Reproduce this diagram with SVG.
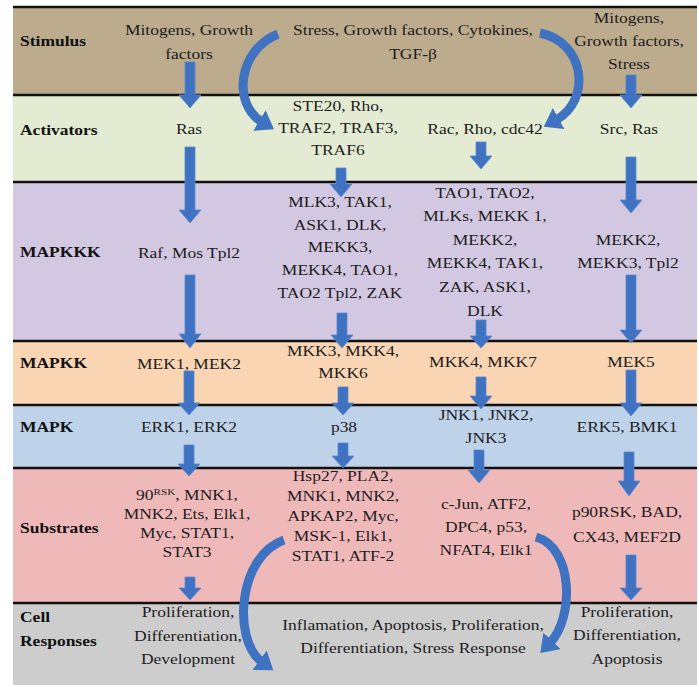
<svg xmlns="http://www.w3.org/2000/svg" width="699" height="687" viewBox="0 0 699 687">
<style>
.t{font-size:14px;fill:#1c1c1c;text-anchor:middle}
.h{font-size:14px;font-weight:bold;fill:#111}
.sep{stroke:#111;stroke-width:2.5}
.arr{fill:#3f72c0;stroke:#5a88d0;stroke-width:0.8}
.curve{fill:none;stroke:#3f72c0;stroke-width:9}
</style>
<defs>
<marker id="ah" markerUnits="userSpaceOnUse" markerWidth="17" markerHeight="24" viewBox="0 0 17 24" refX="3" refY="12" orient="auto">
<path d="M0,0 L17,12 L0,24 Z" fill="#3f72c0"/>
</marker>
</defs>
<rect width="699" height="687" fill="#ffffff"/>
<g id="bands">
<rect x="13" y="7" width="684" height="88" fill="#bcab8c"/>
<rect x="13" y="95" width="684" height="87" fill="#e3ecd2"/>
<rect x="13" y="182" width="684" height="159" fill="#d3c8e2"/>
<rect x="13" y="341" width="684" height="64" fill="#f9d5b4"/>
<rect x="13" y="405" width="684" height="63" fill="#bed3ea"/>
<rect x="13" y="468" width="684" height="135" fill="#f0b9b9"/>
<rect x="13" y="603" width="684" height="82" fill="#cdcdcd"/>
<line class="sep" x1="13" y1="7" x2="697" y2="7"/>
<line class="sep" x1="13" y1="95" x2="697" y2="95"/>
<line class="sep" x1="13" y1="182" x2="697" y2="182"/>
<line class="sep" x1="13" y1="341" x2="697" y2="341"/>
<line class="sep" x1="13" y1="405" x2="697" y2="405"/>
<line class="sep" x1="13" y1="468" x2="697" y2="468"/>
<line class="sep" x1="13" y1="603" x2="697" y2="603"/>
</g>
<g font-family="Liberation Serif, Times New Roman, DejaVu Serif, serif">
<g id="row-labels">
<text class="h" transform="translate(20,0) scale(1.25,1)" x="0" y="46">Stimulus</text>
<text class="h" transform="translate(20,0) scale(1.25,1)" x="0" y="135">Activators</text>
<text class="h" transform="translate(20,0) scale(1.25,1)" x="0" y="257">MAPKKK</text>
<text class="h" transform="translate(20,0) scale(1.25,1)" x="0" y="368">MAPKK</text>
<text class="h" transform="translate(20,0) scale(1.25,1)" x="0" y="432">MAPK</text>
<text class="h" transform="translate(20,0) scale(1.25,1)" x="0" y="533">Substrates</text>
<text class="h" transform="translate(20,0) scale(1.25,1)"><tspan x="0" y="622">Cell</tspan><tspan x="0" y="646">Responses</tspan></text>
</g>
<g id="stim-1"><text class="t" transform="translate(189,0) scale(1.25,1)"><tspan x="0" y="35">Mitogens, Growth</tspan><tspan x="0" y="59">factors</tspan></text></g>
<g id="stim-2"><text class="t" transform="translate(413,0) scale(1.25,1)"><tspan x="0" y="35">Stress, Growth factors, Cytokines,</tspan><tspan x="0" y="59">TGF-β</tspan></text></g>
<g id="stim-4"><text class="t" transform="translate(629,0) scale(1.25,1)"><tspan x="0" y="23">Mitogens,</tspan><tspan x="0" y="46">Growth factors,</tspan><tspan x="0" y="69">Stress</tspan></text></g>
<g id="act-1"><text class="t" transform="translate(189,0) scale(1.25,1)" x="0" y="134">Ras</text></g>
<g id="act-2"><text class="t" transform="translate(338,0) scale(1.25,1)"><tspan x="0" y="111">STE20, Rho,</tspan><tspan x="0" y="133">TRAF2, TRAF3,</tspan><tspan x="0" y="155">TRAF6</tspan></text></g>
<g id="act-3"><text class="t" transform="translate(485,0) scale(1.25,1)" x="0" y="134">Rac, Rho, cdc42</text></g>
<g id="act-4"><text class="t" transform="translate(629,0) scale(1.25,1)" x="0" y="134">Src, Ras</text></g>
<g id="mkkk-1"><text class="t" transform="translate(189,0) scale(1.25,1)" x="0" y="258">Raf, Mos Tpl2</text></g>
<g id="mkkk-2"><text class="t" transform="translate(340,0) scale(1.25,1)"><tspan x="0" y="207">MLK3, TAK1,</tspan><tspan x="0" y="230">ASK1, DLK,</tspan><tspan x="0" y="252">MEKK3,</tspan><tspan x="0" y="275">MEKK4, TAO1,</tspan><tspan x="0" y="298">TAO2 Tpl2, ZAK</tspan></text></g>
<g id="mkkk-3"><text class="t" transform="translate(485,0) scale(1.25,1)"><tspan x="0" y="198">TAO1, TAO2,</tspan><tspan x="0" y="221">MLKs, MEKK 1,</tspan><tspan x="0" y="245">MEKK2,</tspan><tspan x="0" y="268">MEKK4, TAK1,</tspan><tspan x="0" y="292">ZAK, ASK1,</tspan><tspan x="0" y="316">DLK</tspan></text></g>
<g id="mkkk-4"><text class="t" transform="translate(628,0) scale(1.25,1)"><tspan x="0" y="245">MEKK2,</tspan><tspan x="0" y="268">MEKK3, Tpl2</tspan></text></g>
<g id="mkk-1"><text class="t" transform="translate(189,0) scale(1.25,1)" x="0" y="369">MEK1, MEK2</text></g>
<g id="mkk-2"><text class="t" transform="translate(343,0) scale(1.25,1)"><tspan x="0" y="356">MKK3, MKK4,</tspan><tspan x="0" y="378">MKK6</tspan></text></g>
<g id="mkk-3"><text class="t" transform="translate(483,0) scale(1.25,1)" x="0" y="367">MKK4, MKK7</text></g>
<g id="mkk-4"><text class="t" transform="translate(631,0) scale(1.25,1)" x="0" y="367">MEK5</text></g>
<g id="mapk-1"><text class="t" transform="translate(189,0) scale(1.25,1)" x="0" y="432">ERK1, ERK2</text></g>
<g id="mapk-2"><text class="t" transform="translate(344,0) scale(1.25,1)" x="0" y="432">p38</text></g>
<g id="mapk-3"><text class="t" transform="translate(486,0) scale(1.25,1)"><tspan x="0" y="420">JNK1, JNK2,</tspan><tspan x="0" y="443">JNK3</tspan></text></g>
<g id="mapk-4"><text class="t" transform="translate(627,0) scale(1.25,1)" x="0" y="432">ERK5, BMK1</text></g>
<g id="sub-1"><text class="t" transform="translate(187,0) scale(1.25,1)"><tspan x="0" y="500">90<tspan font-size="9" dy="-5">RSK</tspan><tspan dy="5">, MNK1,</tspan></tspan><tspan x="0" y="519">MNK2, Ets, Elk1,</tspan><tspan x="0" y="538">Myc, STAT1,</tspan><tspan x="0" y="557">STAT3</tspan></text></g>
<g id="sub-2"><text class="t" transform="translate(343,0) scale(1.25,1)"><tspan x="0" y="481">Hsp27, PLA2,</tspan><tspan x="0" y="501">MNK1, MNK2,</tspan><tspan x="0" y="521">APKAP2, Myc,</tspan><tspan x="0" y="541">MSK-1, Elk1,</tspan><tspan x="0" y="561">STAT1, ATF-2</tspan></text></g>
<g id="sub-3"><text class="t" transform="translate(486,0) scale(1.25,1)"><tspan x="0" y="509">c-Jun, ATF2,</tspan><tspan x="0" y="532">DPC4, p53,</tspan><tspan x="0" y="555">NFAT4, Elk1</tspan></text></g>
<g id="sub-4"><text class="t" transform="translate(627,0) scale(1.25,1)"><tspan x="0" y="517">p90RSK, BAD,</tspan><tspan x="0" y="542">CX43, MEF2D</tspan></text></g>
<g id="cell-1"><text class="t" transform="translate(188,0) scale(1.25,1)"><tspan x="0" y="617">Proliferation,</tspan><tspan x="0" y="641">Differentiation,</tspan><tspan x="0" y="664">Development</tspan></text></g>
<g id="cell-2"><text class="t" transform="translate(413,0) scale(1.25,1)"><tspan x="0" y="630">Inflamation, Apoptosis, Proliferation,</tspan><tspan x="0" y="653">Differentiation, Stress Response</tspan></text></g>
<g id="cell-4"><text class="t" transform="translate(627,0) scale(1.25,1)"><tspan x="0" y="617">Proliferation,</tspan><tspan x="0" y="640">Differentiation,</tspan><tspan x="0" y="664">Apoptosis</tspan></text></g>
</g>
<g id="connectors">
<path class="arr" d="M185,62 H195 V95 H201 L190,108 L179,95 H185 Z"/>
<path class="arr" d="M185,147 H195 V210 H201 L190,223 L179,210 H185 Z"/>
<path class="arr" d="M185,275 H195 V334 H201 L190,348 L179,334 H185 Z"/>
<path class="arr" d="M184,371 H194 V403 H200 L189,415 L178,403 H184 Z"/>
<path class="arr" d="M184,445 H194 V464 H200 L189,476 L178,464 H184 Z"/>
<path class="arr" d="M185,577 H195 V588 H201 L190,600 L179,588 H185 Z"/>
<path class="arr" d="M336,168 H346 V184 H352 L341,197 L330,184 H336 Z"/>
<path class="arr" d="M337,313 H347 V335 H353 L342,348 L331,335 H337 Z"/>
<path class="arr" d="M338,387 H348 V403 H354 L343,415 L332,403 H338 Z"/>
<path class="arr" d="M338,443 H348 V456 H354 L343,468 L332,456 H338 Z"/>
<path class="arr" d="M476,142 H486 V156 H492 L481,169 L470,156 H476 Z"/>
<path class="arr" d="M476,320 H486 V336 H492 L481,348 L470,336 H476 Z"/>
<path class="arr" d="M476,377 H486 V396 H492 L481,409 L470,396 H476 Z"/>
<path class="arr" d="M474,450 H484 V470 H490 L479,483 L468,470 H474 Z"/>
<path class="arr" d="M626,75 H636 V95 H642 L631,108 L620,95 H626 Z"/>
<path class="arr" d="M626,157 H636 V200 H642 L631,213 L620,200 H626 Z"/>
<path class="arr" d="M626,275 H636 V330 H642 L631,343 L620,330 H626 Z"/>
<path class="arr" d="M626,370 H636 V403 H642 L631,416 L620,403 H626 Z"/>
<path class="arr" d="M624,452 H634 V481 H640 L629,496 L618,481 H624 Z"/>
<path class="arr" d="M626,555 H636 V588 H642 L631,600 L620,588 H626 Z"/>
<path class="curve" marker-end="url(#ah)" d="M278,34 C238,50 232,104 262,122"/>
<path class="curve" marker-end="url(#ah)" d="M540,33 C585,42 592,100 556,120"/>
<path class="curve" marker-end="url(#ah)" d="M284,540 C238,556 232,640 262,662"/>
<path class="curve" marker-end="url(#ah)" d="M536,537 C574,548 574,618 550,643"/>
</g>
</svg>
